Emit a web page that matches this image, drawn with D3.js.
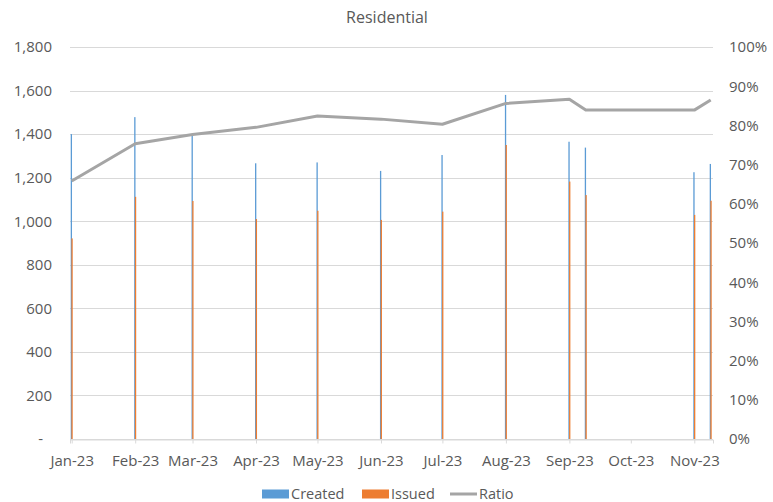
<!DOCTYPE html>
<html>
<head>
<meta charset="utf-8">
<script src="https://cdn.jsdelivr.net/npm/d3@7"></script>
<style>
    body { margin: 0; background: #fff; }
    text { font-family: "Open Sans", sans-serif; fill: #595959; }
</style>
</head>
<body>
<svg class="chart"></svg>
<script>
// Values
var dates = ["2023-01-01", "2023-02-01", "2023-03-01", "2023-04-01", "2023-05-01", "2023-06-01",
             "2023-07-01", "2023-08-01", "2023-09-01", "2023-09-09", "2023-11-01", "2023-11-09"];
var created = [1400, 1478, 1393, 1266, 1270, 1231, 1304, 1580, 1365, 1338, 1225, 1263];
var issued = [921, 1112, 1093, 1010, 1048, 1006, 1044, 1350, 1182, 1120, 1029, 1094];
var ratio = [0.658, 0.753, 0.777, 0.795, 0.824, 0.816, 0.803, 0.856, 0.867, 0.839, 0.839, 0.865];
var leftTicks = [0, 200, 400, 600, 800, 1000, 1200, 1400, 1600, 1800];
var rightTicks = [0, 0.1, 0.2, 0.3, 0.4, 0.5, 0.6, 0.7, 0.8, 0.9, 1];
var legendItems = ["Created", "Issued", "Ratio"];

var width = 773, height = 502;
var margin = { top: 47, right: 60, bottom: 63, left: 70 };
var colors = { created: "#5B9BD5", issued: "#ED7D31", ratio: "#A5A5A5", grid: "#D9D9D9" };

var parse = d3.timeParse("%Y-%m-%d");
var data = dates.map(function(d, i) {
    return { date: parse(d), created: created[i], issued: issued[i], ratio: ratio[i] };
});

var svg = d3.select(".chart")
    .attr("width", width)
    .attr("height", height);

var xScale = d3.scaleTime()
    .domain([new Date(2022, 11, 31, 4), new Date(2023, 10, 10, 3)])
    .range([margin.left, width - margin.right]);

var yScale = d3.scaleLinear()
    .domain([0, 1800])
    .range([height - margin.bottom, margin.top]);

var y2Scale = d3.scaleLinear()
    .domain([0, 1])
    .range([height - margin.bottom, margin.top]);

// gridlines
svg.append("g")
    .selectAll("line")
    .data(leftTicks)
    .enter()
    .append("line")
    .attr("x1", margin.left)
    .attr("x2", width - margin.right)
    .attr("y1", function(d) { return Math.round(yScale(d)) + 0.5; })
    .attr("y2", function(d) { return Math.round(yScale(d)) + 0.5; })
    .attr("stroke", colors.grid)
    .attr("stroke-width", 1);

// left axis
var yAxis = d3.axisLeft(yScale)
    .tickValues(leftTicks)
    .tickSize(0)
    .tickPadding(0)
    .tickFormat(function(d) { return d == 0 ? "-" : d3.format(",")(d); });

var gY = svg.append("g")
    .attr("transform", "translate(" + 52 + ",0)")
    .call(yAxis);
gY.select(".domain").remove();
gY.selectAll("text")
    .style("font-size", "15px")
    .attr("x", function(d) { return d == 0 ? -9 : 0; });

// right axis
var y2Axis = d3.axisRight(y2Scale)
    .tickValues(rightTicks)
    .tickSize(0)
    .tickPadding(0)
    .tickFormat(d3.format(".0%"));

var gY2 = svg.append("g")
    .attr("transform", "translate(" + 729 + ",0)")
    .call(y2Axis);
gY2.select(".domain").remove();
gY2.selectAll("text").style("font-size", "15px");

// bottom axis
var xAxis = d3.axisBottom(xScale)
    .ticks(d3.timeMonth.every(1))
    .tickSize(4)
    .tickPadding(12)
    .tickFormat(d3.timeFormat("%b-%y"));

var gX = svg.append("g")
    .attr("transform", "translate(0," + (Math.round(yScale(0)) + 0.5) + ")")
    .call(xAxis);
gX.select(".domain").attr("stroke", colors.grid);
gX.selectAll(".tick line").attr("stroke", colors.grid);
gX.selectAll("text").style("font-size", "15px");

// bars
svg.append("g")
    .selectAll("rect")
    .data(data)
    .enter()
    .append("rect")
    .attr("x", function(d) { return xScale(d.date) - 1; })
    .attr("width", 1.3)
    .attr("y", function(d) { return yScale(d.created); })
    .attr("height", function(d) { return yScale(0) - yScale(d.created); })
    .attr("fill", colors.created);

svg.append("g")
    .selectAll("rect")
    .data(data)
    .enter()
    .append("rect")
    .attr("x", function(d) { return xScale(d.date) - 0.3; })
    .attr("width", 1.3)
    .attr("y", function(d) { return yScale(d.issued); })
    .attr("height", function(d) { return yScale(0) - yScale(d.issued); })
    .attr("fill", colors.issued);

// ratio line
var line = d3.line()
    .x(function(d) { return xScale(d.date); })
    .y(function(d) { return y2Scale(d.ratio); });

svg.append("path")
    .datum(data)
    .attr("d", line)
    .attr("fill", "none")
    .attr("stroke", colors.ratio)
    .attr("stroke-width", 3)
    .attr("stroke-linejoin", "round");

// title
svg.append("text")
    .attr("x", 387)
    .attr("y", 17)
    .attr("dy", "0.35em")
    .attr("text-anchor", "middle")
    .style("font-size", "16px")
    .text("Residential");

// legend
var legendX = [262, 362, 450];
var legend = svg.append("g");
legendItems.forEach(function(name, i) {
    var g = legend.append("g").attr("transform", "translate(" + legendX[i] + ",494)");
    if (name == "Ratio") {
        g.append("line")
            .attr("x1", 0).attr("x2", 27)
            .attr("y1", 0).attr("y2", 0)
            .attr("stroke", colors.ratio)
            .attr("stroke-width", 3);
    } else {
        g.append("rect")
            .attr("x", 0).attr("y", -4.5)
            .attr("width", 27).attr("height", 9)
            .attr("fill", name == "Created" ? colors.created : colors.issued);
    }
    g.append("text")
        .attr("x", 29)
        .attr("dy", "0.35em")
        .style("font-size", "14.5px")
        .text(name);
});
</script>
</body>
</html>
